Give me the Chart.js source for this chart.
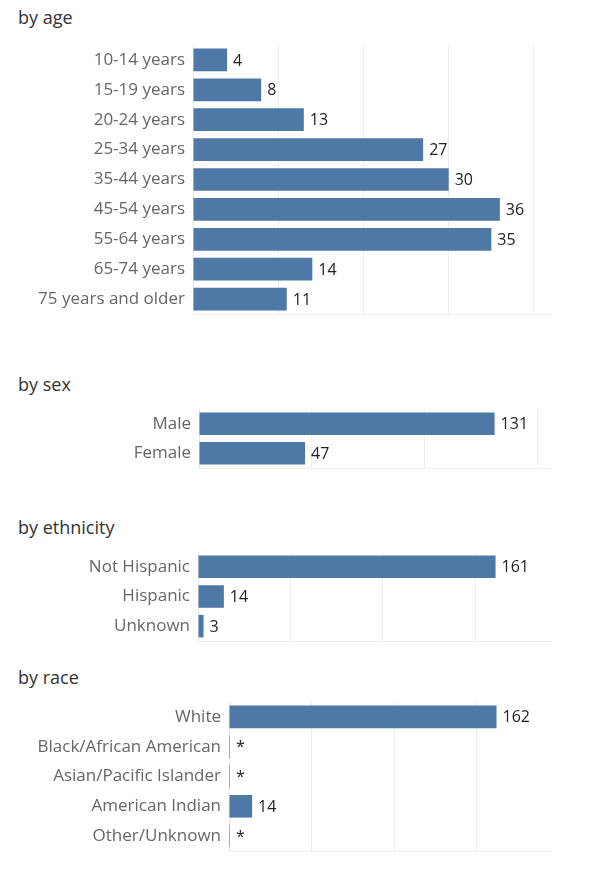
<!DOCTYPE html>
<html>
<head>
<meta charset="utf-8">
<script src="https://cdn.jsdelivr.net/npm/chart.js@4.4.1/dist/chart.umd.min.js"></script>
<style>
  html, body { margin: 0; padding: 0; background: #ffffff; }
  body { width: 597px; height: 877px; position: relative; overflow: hidden; font-family: "Open Sans", sans-serif; }
  .title { position: absolute; left: 18px; font-size: 18px; line-height: 20px; color: #333333; white-space: nowrap; }
  .box { position: absolute; left: 0; width: 597px; }
</style>
</head>
<body>
<div class="title" style="top:7px">by age</div>
<div class="box" id="b1"><canvas id="c1"></canvas></div>
<div class="title" style="top:374px">by sex</div>
<div class="box" id="b2"><canvas id="c2"></canvas></div>
<div class="title" style="top:517px">by ethnicity</div>
<div class="box" id="b3"><canvas id="c3"></canvas></div>
<div class="title" style="top:667px">by race</div>
<div class="box" id="b4"><canvas id="c4"></canvas></div>
<script>
// ---- data ----
const ageCategories = ['10-14 years', '15-19 years', '20-24 years', '25-34 years', '35-44 years', '45-54 years', '55-64 years', '65-74 years', '75 years and older'];
const ageValues = [4, 8, 13, 27, 30, 36, 35, 14, 11];
const ageLabels = ['4', '8', '13', '27', '30', '36', '35', '14', '11'];

const sexCategories = ['Male', 'Female'];
const sexValues = [131, 47];
const sexLabels = ['131', '47'];

const ethnicityCategories = ['Not Hispanic', 'Hispanic', 'Unknown'];
const ethnicityValues = [161, 14, 3];
const ethnicityLabels = ['161', '14', '3'];

const raceCategories = ['White', 'Black/African American', 'Asian/Pacific Islander', 'American Indian', 'Other/Unknown'];
const raceValues = [162, 0, 0, 14, 0];
const raceLabels = ['162', '*', '*', '14', '*'];

// ---- rendering ----
const BAR = '#4e79a7';
const FONT = '"Open Sans", sans-serif';

const valueLabelPlugin = {
  id: 'valueLabels',
  afterDatasetsDraw(chart) {
    const ctx = chart.ctx;
    const labels = chart.options.plugins.valueLabels.labels;
    const meta = chart.getDatasetMeta(0);
    ctx.save();
    ctx.font = '16px ' + FONT;
    ctx.fillStyle = '#222222';
    ctx.textAlign = 'left';
    ctx.textBaseline = 'middle';
    meta.data.forEach((bar, i) => {
      ctx.fillText(labels[i], bar.x + 6, bar.y + 1);
    });
    ctx.restore();
  }
};

function makeChart(id, boxId, top, areaHeight, left, cats, vals, labels, max, step) {
  const box = document.getElementById(boxId);
  const pad = 2;
  box.style.top = (top - pad) + 'px';
  box.style.height = (areaHeight + 2 * pad) + 'px';
  new Chart(document.getElementById(id), {
    type: 'bar',
    data: {
      labels: cats,
      datasets: [{
        data: vals,
        backgroundColor: BAR,
        borderWidth: 0,
        barPercentage: 0.76,
        categoryPercentage: 1,
        minBarLength: 1
      }]
    },
    options: {
      indexAxis: 'y',
      responsive: true,
      maintainAspectRatio: false,
      animation: false,
      layout: { padding: { left: 0, right: 46, top: pad, bottom: pad } },
      plugins: {
        legend: { display: false },
        tooltip: { enabled: false },
        valueLabels: { labels: labels }
      },
      scales: {
        x: {
          min: 0,
          max: max,
          ticks: { display: false, stepSize: step, includeBounds: false },
          grid: { color: '#eeeeee', lineWidth: 1, drawTicks: false },
          border: { display: true, color: '#eeeeee' }
        },
        y: {
          ticks: {
            color: '#666666',
            font: { family: FONT, size: 17 },
            padding: 8,
            autoSkip: false
          },
          grid: { display: false, drawTicks: false },
          border: { display: true, color: '#e6e6e6' },
          afterFit(scale) {
            scale.width = left;
            scale.paddingTop = 0;
            scale.paddingBottom = 0;
          }
        }
      }
    },
    plugins: [valueLabelPlugin]
  });
}

makeChart('c1', 'b1', 45, 269, 193, ageCategories, ageValues, ageLabels, 42, 10);
makeChart('c2', 'b2', 409, 59, 199, sexCategories, sexValues, sexLabels, 156, 50);
makeChart('c3', 'b3', 552, 89, 198, ethnicityCategories, ethnicityValues, ethnicityLabels, 191, 50);
makeChart('c4', 'b4', 702, 149, 229, raceCategories, raceValues, raceLabels, 195, 50);
</script>
</body>
</html>
